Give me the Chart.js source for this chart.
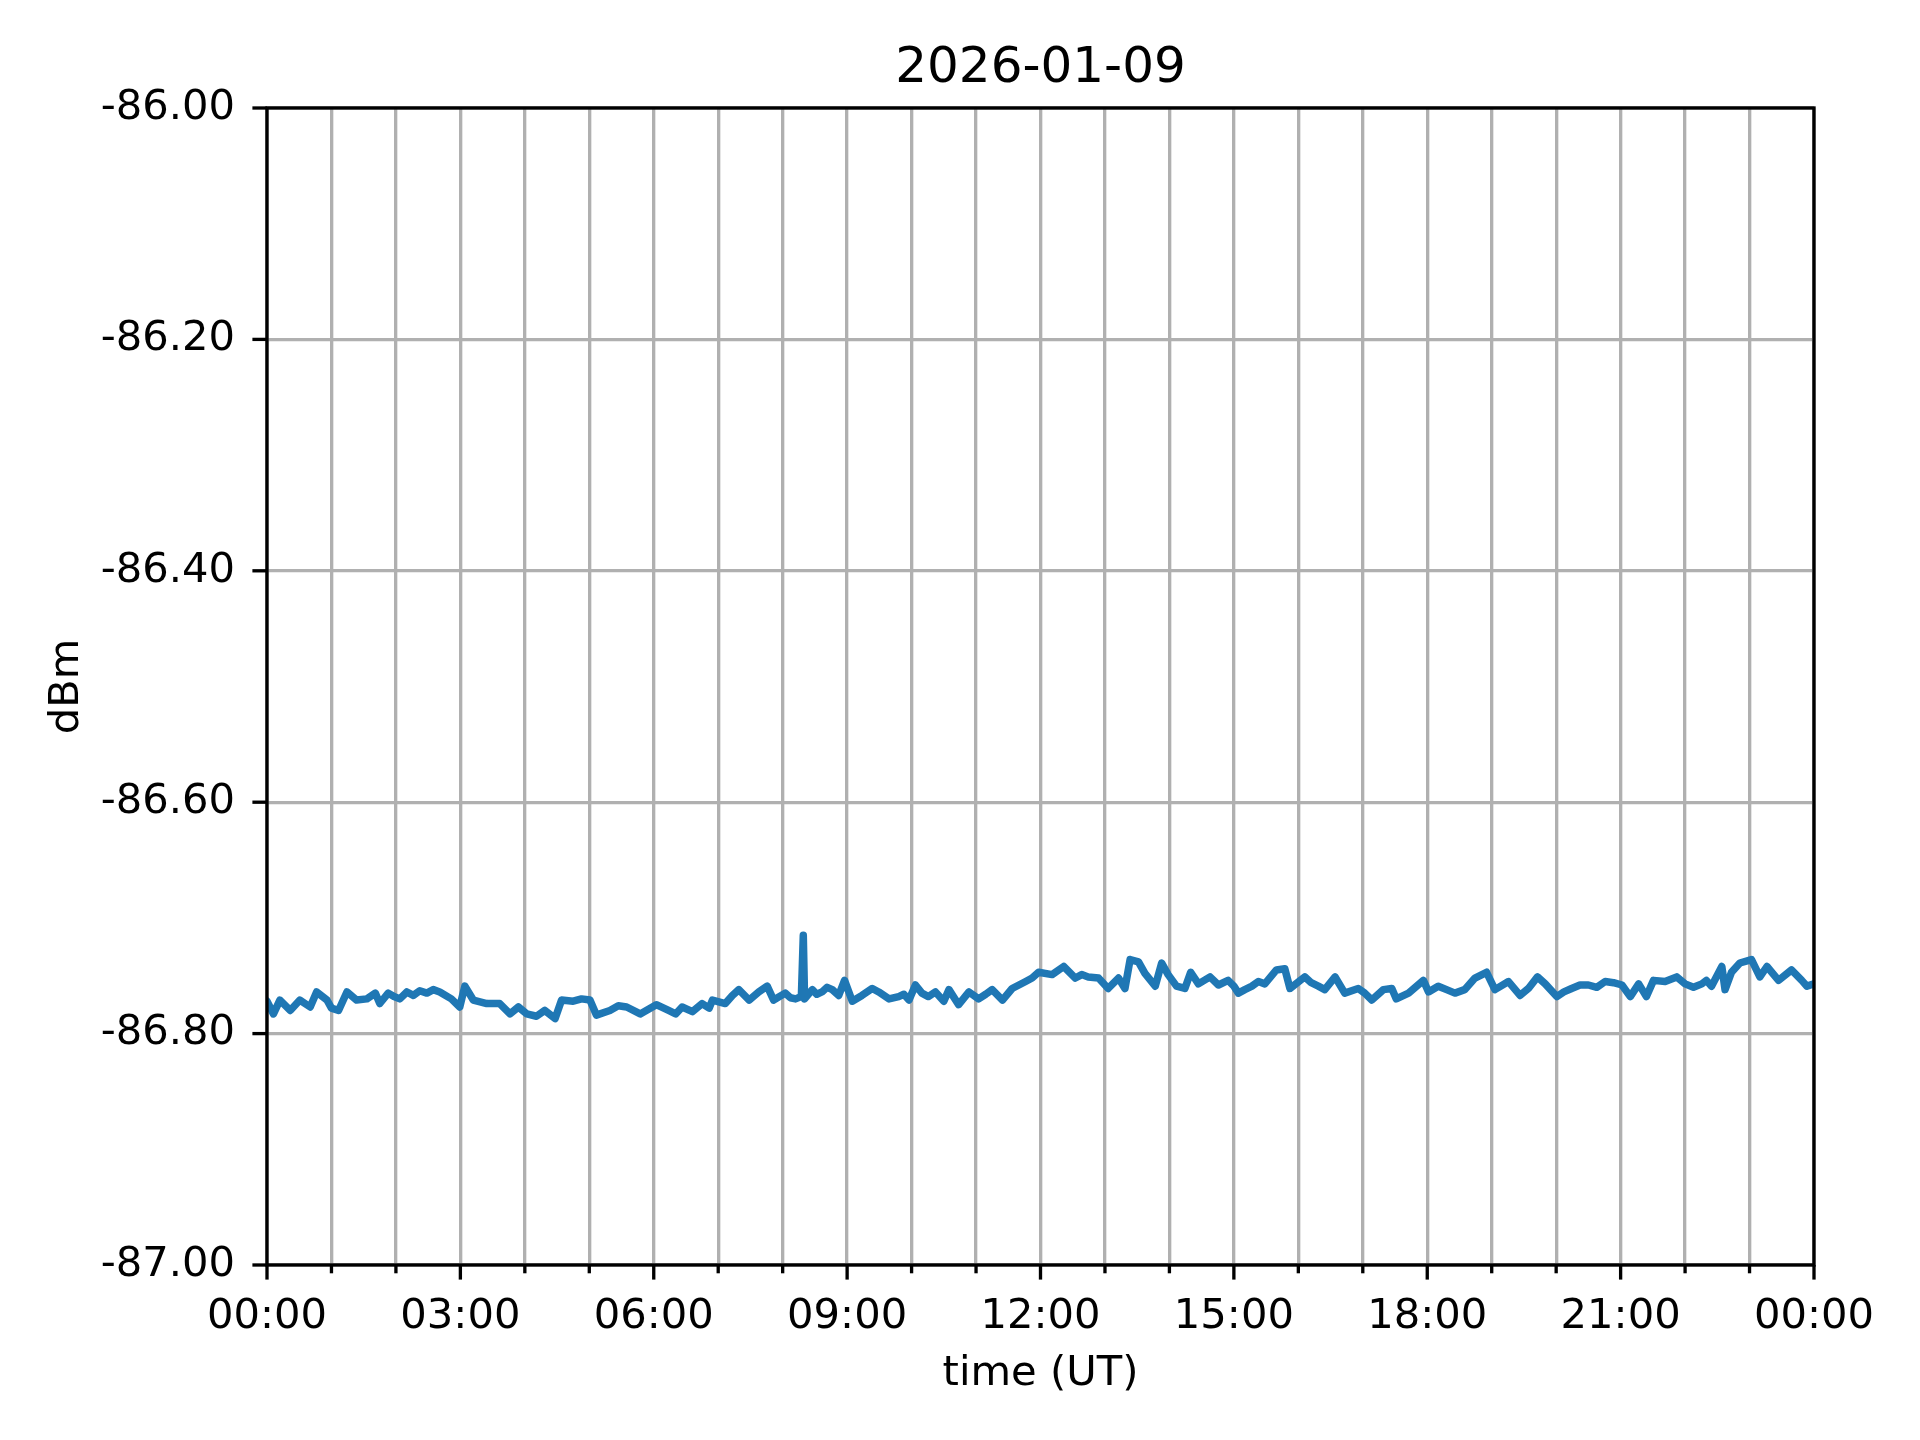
<!DOCTYPE html>
<html><head><meta charset="utf-8">
<script src="https://cdn.jsdelivr.net/npm/chart.js@4.4.1/dist/chart.umd.min.js"></script>
<style>html,body{margin:0;padding:0;background:#fff;} #wrap{width:1920px;height:1440px;}</style>
</head><body><div id="wrap"><canvas id="c" width="1920" height="1440"></canvas></div>
<script>
const chartTitle = '2026-01-09';
const xAxisLabel = 'time (UT)';
const yAxisLabel = 'dBm';
const xTickLabels = ['00:00','03:00','06:00','09:00','12:00','15:00','18:00','21:00','00:00'];
const yMin = -87, yMax = -86, yStep = 0.2;

// time in hours (UT)
const hours = [
 0.00,0.10,0.20,0.36,0.51,0.67,0.77,0.93,1.00,1.11,1.24,1.39,1.55,1.68,1.75,1.88,1.97,2.06,2.17,2.27,2.37,2.48,2.58,2.68,2.86,2.99,
 3.07,3.20,3.41,3.61,3.77,3.90,4.03,4.18,4.31,4.47,4.57,4.75,4.88,5.01,5.11,5.32,5.45,5.58,5.79,6.04,
 6.23,6.34,6.44,6.60,6.75,6.86,6.91,7.11,7.22,7.32,7.48,7.63,7.76,7.86,8.04,8.12,8.20,8.29,8.32,8.34,8.46,8.53,8.61,8.69,8.77,8.87,8.96,
 9.08,9.23,9.39,9.49,9.65,9.80,9.88,9.96,10.06,10.16,10.26,10.37,10.50,10.58,10.73,10.89,11.04,11.15,11.25,11.41,11.56,11.77,11.87,11.97,
 12.18,12.36,12.54,12.64,12.74,12.90,13.05,13.21,13.31,13.39,13.52,13.62,13.78,13.88,13.98,14.11,14.24,14.33,14.45,14.63,14.76,14.91,
 15.00,15.07,15.17,15.28,15.38,15.48,15.66,15.79,15.87,16.10,16.20,16.31,16.41,16.57,16.72,16.93,17.03,17.14,17.32,17.45,17.52,17.71,17.94,
 18.02,18.17,18.30,18.43,18.58,18.74,18.92,19.05,19.26,19.44,19.57,19.71,19.83,20.01,20.12,20.24,20.37,20.50,20.63,20.76,20.89,
 21.02,21.15,21.28,21.40,21.51,21.69,21.87,22.00,22.13,22.26,22.33,22.41,22.57,22.62,22.72,22.85,23.03,23.16,23.27,23.45,23.65,23.81,23.89,24.00
];
// received power (dBm)
const dbm = [
 -86.772,-86.783,-86.771,-86.780,-86.771,-86.777,-86.764,-86.771,-86.778,-86.780,-86.764,-86.771,-86.770,-86.765,-86.774,-86.765,-86.768,-86.770,-86.764,-86.767,-86.763,-86.765,-86.762,-86.764,-86.770,-86.777,
 -86.759,-86.771,-86.774,-86.774,-86.783,-86.777,-86.783,-86.785,-86.780,-86.787,-86.771,-86.772,-86.770,-86.771,-86.784,-86.780,-86.776,-86.777,-86.783,-86.775,
 -86.780,-86.783,-86.777,-86.781,-86.774,-86.778,-86.771,-86.774,-86.767,-86.762,-86.771,-86.764,-86.759,-86.771,-86.765,-86.769,-86.770,-86.768,-86.715,-86.770,-86.762,-86.766,-86.764,-86.760,-86.762,-86.767,-86.754,
 -86.772,-86.767,-86.761,-86.764,-86.770,-86.768,-86.766,-86.771,-86.758,-86.765,-86.768,-86.764,-86.772,-86.762,-86.775,-86.764,-86.770,-86.766,-86.762,-86.771,-86.761,-86.755,-86.752,-86.747,
 -86.749,-86.742,-86.752,-86.749,-86.751,-86.752,-86.761,-86.752,-86.761,-86.736,-86.738,-86.748,-86.759,-86.739,-86.749,-86.759,-86.761,-86.747,-86.757,-86.751,-86.758,-86.754,
 -86.759,-86.765,-86.762,-86.759,-86.755,-86.757,-86.745,-86.744,-86.761,-86.751,-86.756,-86.759,-86.762,-86.751,-86.765,-86.761,-86.765,-86.771,-86.762,-86.761,-86.770,-86.765,-86.754,
 -86.764,-86.759,-86.762,-86.765,-86.762,-86.752,-86.747,-86.762,-86.755,-86.767,-86.761,-86.751,-86.757,-86.768,-86.764,-86.761,-86.758,-86.758,-86.760,-86.755,-86.756,
 -86.758,-86.768,-86.757,-86.768,-86.754,-86.755,-86.751,-86.757,-86.760,-86.757,-86.754,-86.759,-86.742,-86.762,-86.747,-86.739,-86.736,-86.751,-86.742,-86.754,-86.745,-86.754,-86.759,-86.757
];

const points = hours.map((h, i) => ({x: h, y: dbm[i]}));
const FONT = 'DejaVu Sans';
const LW = 3.33;

const framePlugin = {
  id: 'frame',
  afterLayout(chart) {
    const tb = chart.titleBlock;
    if (tb) { tb.left = chart.chartArea.left; tb.right = chart.chartArea.right; tb.width = tb.right - tb.left; }
  },
  afterDatasetsDraw(chart) {
    const {ctx, chartArea: a, scales: {x, y}} = chart;
    ctx.save();
    ctx.strokeStyle = '#000';
    ctx.lineWidth = LW;
    ctx.lineCap = 'butt';
    x.ticks.forEach(t => {
      const px = x.getPixelForValue(t.value);
      const len = (Math.round(t.value) % 3 === 0) ? 14.6 : 8.3;
      ctx.beginPath(); ctx.moveTo(px, a.bottom); ctx.lineTo(px, a.bottom + len); ctx.stroke();
    });
    y.ticks.forEach(t => {
      const py = y.getPixelForValue(t.value);
      ctx.beginPath(); ctx.moveTo(a.left, py); ctx.lineTo(a.left - 14.6, py); ctx.stroke();
    });
    ctx.lineJoin = 'miter';
    ctx.strokeRect(a.left, a.top, a.right - a.left, a.bottom - a.top);
    ctx.restore();
  }
};

new Chart(document.getElementById('c'), {
  type: 'line',
  data: { datasets: [{
    data: points,
    borderColor: '#1f77b4',
    borderWidth: 7.5,
    pointRadius: 0,
    tension: 0,
    fill: false,
    borderJoinStyle: 'round',
    borderCapStyle: 'round'
  }]},
  options: {
    responsive: false,
    animation: false,
    devicePixelRatio: 1,
    layout: { padding: { left: 0, right: 106, top: 0, bottom: 0 } },
    plugins: {
      legend: { display: false },
      tooltip: { enabled: false },
      title: {
        display: true, text: chartTitle, color: '#000',
        font: { family: FONT, size: 50, weight: 'normal', lineHeight: 1.2 },
        padding: { top: 39, bottom: 9 }
      }
    },
    scales: {
      x: {
        type: 'linear', min: 0, max: 24,
        afterFit: s => { s.height = 175; },
        afterBuildTicks: s => { s.ticks = Array.from({length: 25}, (_, i) => ({value: i})); },
        grid: { color: '#b0b0b0', lineWidth: LW, drawTicks: false },
        border: { display: false },
        ticks: {
          autoSkip: false, maxRotation: 0, minRotation: 0, padding: 27, color: '#000',
          font: { family: FONT, size: 41.67, lineHeight: 1.2 },
          callback: v => (v % 3 === 0 ? xTickLabels[v / 3] : '')
        },
        title: { display: true, text: xAxisLabel, color: '#000',
          font: { family: FONT, size: 41.67, lineHeight: 1.2 }, padding: { top: 0, bottom: 41 } }
      },
      y: {
        type: 'linear', min: yMin, max: yMax,
        afterFit: s => { s.width = 267; },
        afterBuildTicks: s => { s.ticks = Array.from({length: 6}, (_, i) => ({value: yMin + i * yStep})); },
        grid: { color: '#b0b0b0', lineWidth: LW, drawTicks: false },
        border: { display: false },
        ticks: {
          padding: 32, color: '#000',
          font: { family: FONT, size: 41.67, lineHeight: 1.2 },
          callback: v => Number(v).toFixed(2)
        },
        title: { display: true, text: yAxisLabel, color: '#000',
          font: { family: FONT, size: 41.67, lineHeight: 1.2 }, padding: { top: 42, bottom: 0 } }
      }
    }
  },
  plugins: [framePlugin]
});
</script>
</body></html>
